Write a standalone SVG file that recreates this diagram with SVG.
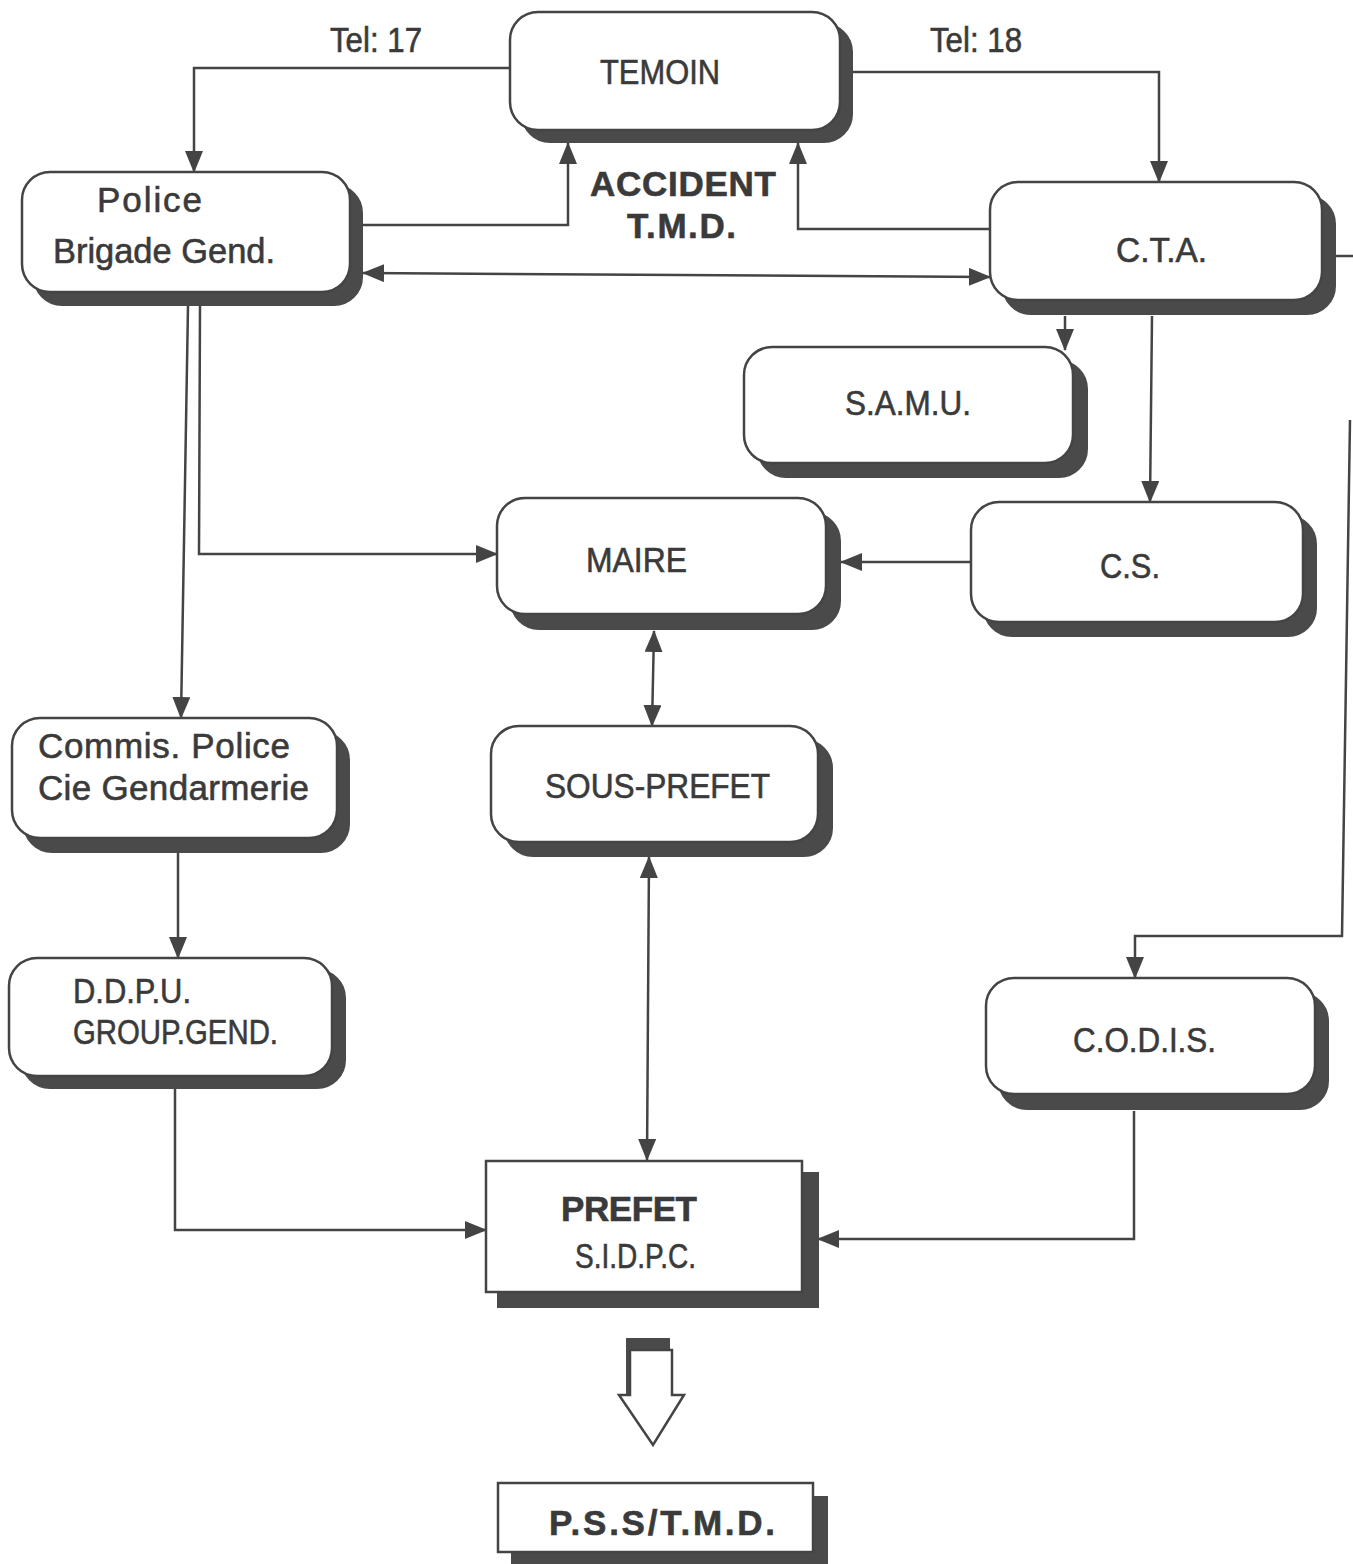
<svg xmlns="http://www.w3.org/2000/svg" width="1353" height="1564" viewBox="0 0 1353 1564">
<style>
.sh{fill:#4a4a4a;stroke:#4a4a4a;stroke-width:2}
.bx{fill:#fff;stroke:#444;stroke-width:2.5}
.t{font-family:"Liberation Sans",Arial,sans-serif;fill:#3a3a3a;stroke:#3a3a3a;stroke-width:0.6;font-size:35px}
.b{font-weight:bold}
.ln{fill:none;stroke:#444;stroke-width:2.5}
</style>
<defs>
<marker id="ah" viewBox="0 0 22 18" refX="21" refY="9" markerWidth="22" markerHeight="18" orient="auto-start-reverse" markerUnits="userSpaceOnUse"><path d="M0,0 L22,9 L0,18 Z" fill="#444"/></marker>
</defs>
<rect width="1353" height="1564" fill="#fff"/>
<g id="connectors">
<path class="ln" d="M510,68 H194 V172" marker-end="url(#ah)"/>
<path class="ln" d="M852,72 H1159 V182" marker-end="url(#ah)"/>
<path class="ln" d="M362,225 H568 V143" marker-end="url(#ah)"/>
<path class="ln" d="M990,229 H798 V143" marker-end="url(#ah)"/>
<path class="ln" d="M363,273 L990,277" marker-start="url(#ah)" marker-end="url(#ah)"/>
<path class="ln" d="M1065,316 V350" marker-end="url(#ah)"/>
<path class="ln" d="M1152,316 L1150,502" marker-end="url(#ah)"/>
<path class="ln" d="M1336,256 H1353"/>
<path class="ln" d="M1350,420 L1342,936 H1135 V978" marker-end="url(#ah)"/>
<path class="ln" d="M188,306 L181,718" marker-end="url(#ah)"/>
<path class="ln" d="M200,306 L199,554 H497" marker-end="url(#ah)"/>
<path class="ln" d="M971,562 H841" marker-end="url(#ah)"/>
<path class="ln" d="M654,631 L652,726" marker-start="url(#ah)" marker-end="url(#ah)"/>
<path class="ln" d="M649,857 L647,1160" marker-start="url(#ah)" marker-end="url(#ah)"/>
<path class="ln" d="M178,852 V958" marker-end="url(#ah)"/>
<path class="ln" d="M175,1089 V1230 H486" marker-end="url(#ah)"/>
<path class="ln" d="M1134,1111 V1239 H818" marker-end="url(#ah)"/>
<path d="M626,1338 H670 V1350 H638 V1400 H626 Z" fill="#4a4a4a"/>
<path d="M630,1350 H672 V1395 H684 L653,1445 L619,1395 H630 Z" fill="#fff" stroke="#444" stroke-width="2.5"/>
</g>
<g id="labels">
<text class="t" x="330" y="52" font-size="29" textLength="92" lengthAdjust="spacingAndGlyphs">Tel: 17</text>
<text class="t" x="930" y="52" font-size="29" textLength="92" lengthAdjust="spacingAndGlyphs">Tel: 18</text>
<text class="t b" x="590" y="196" textLength="186">ACCIDENT</text>
<text class="t b" x="627" y="238" textLength="109">T.M.D.</text>
</g>
<g id="temoin"><rect class="sh" x="522" y="24" width="330" height="118" rx="28"/><rect class="bx" x="510" y="12" width="330" height="118" rx="28"/><text class="t" x="600" y="84" textLength="120" lengthAdjust="spacingAndGlyphs">TEMOIN</text></g>
<g id="police"><rect class="sh" x="34" y="185" width="328" height="120" rx="28"/><rect class="bx" x="22" y="172" width="328" height="120" rx="28"/><text class="t" x="97" y="212" textLength="105">Police</text><text class="t" x="53" y="263" textLength="222" lengthAdjust="spacingAndGlyphs">Brigade Gend.</text></g>
<g id="cta"><rect class="sh" x="1003" y="196" width="332" height="118" rx="28"/><rect class="bx" x="990" y="182" width="332" height="118" rx="28"/><text class="t" x="1116" y="262" textLength="91" lengthAdjust="spacingAndGlyphs">C.T.A.</text></g>
<g id="samu"><rect class="sh" x="758" y="361" width="329" height="116" rx="28"/><rect class="bx" x="744" y="347" width="329" height="116" rx="28"/><text class="t" x="845" y="415" textLength="126" lengthAdjust="spacingAndGlyphs">S.A.M.U.</text></g>
<g id="maire"><rect class="sh" x="511" y="513" width="329" height="116" rx="28"/><rect class="bx" x="497" y="498" width="329" height="116" rx="28"/><text class="t" x="586" y="572" textLength="101" lengthAdjust="spacingAndGlyphs">MAIRE</text></g>
<g id="cs"><rect class="sh" x="984" y="516" width="332" height="120" rx="28"/><rect class="bx" x="971" y="502" width="332" height="120" rx="28"/><text class="t" x="1100" y="578" textLength="60" lengthAdjust="spacingAndGlyphs">C.S.</text></g>
<g id="commis"><rect class="sh" x="24" y="732" width="325" height="120" rx="28"/><rect class="bx" x="12" y="718" width="325" height="120" rx="28"/><text class="t" x="38" y="758" textLength="252">Commis. Police</text><text class="t" x="38" y="800" textLength="271">Cie Gendarmerie</text></g>
<g id="sous-prefet"><rect class="sh" x="505" y="740" width="327" height="116" rx="28"/><rect class="bx" x="491" y="726" width="327" height="116" rx="28"/><text class="t" x="545" y="798" textLength="225" lengthAdjust="spacingAndGlyphs">SOUS-PREFET</text></g>
<g id="ddpu"><rect class="sh" x="22" y="970" width="323" height="118" rx="28"/><rect class="bx" x="9" y="958" width="323" height="118" rx="28"/><text class="t" x="73" y="1003" textLength="118" lengthAdjust="spacingAndGlyphs">D.D.P.U.</text><text class="t" x="73" y="1044" textLength="205" lengthAdjust="spacingAndGlyphs">GROUP.GEND.</text></g>
<g id="codis"><rect class="sh" x="999" y="993" width="329" height="116" rx="28"/><rect class="bx" x="986" y="978" width="329" height="116" rx="28"/><text class="t" x="1073" y="1052" textLength="143" lengthAdjust="spacingAndGlyphs">C.O.D.I.S.</text></g>
<g id="prefet"><rect class="sh" x="498" y="1173" width="320" height="134"/><rect class="bx" x="486" y="1161" width="316" height="131"/><text class="t b" x="561" y="1221" textLength="136">PREFET</text><text class="t" x="575" y="1268" font-size="30" textLength="121" lengthAdjust="spacingAndGlyphs">S.I.D.P.C.</text></g>
<g id="pss"><rect class="sh" x="512" y="1497" width="315" height="67"/><rect class="bx" x="498" y="1483" width="315" height="69"/><text class="t b" x="549" y="1535" textLength="226">P.S.S/T.M.D.</text></g>
</svg>
